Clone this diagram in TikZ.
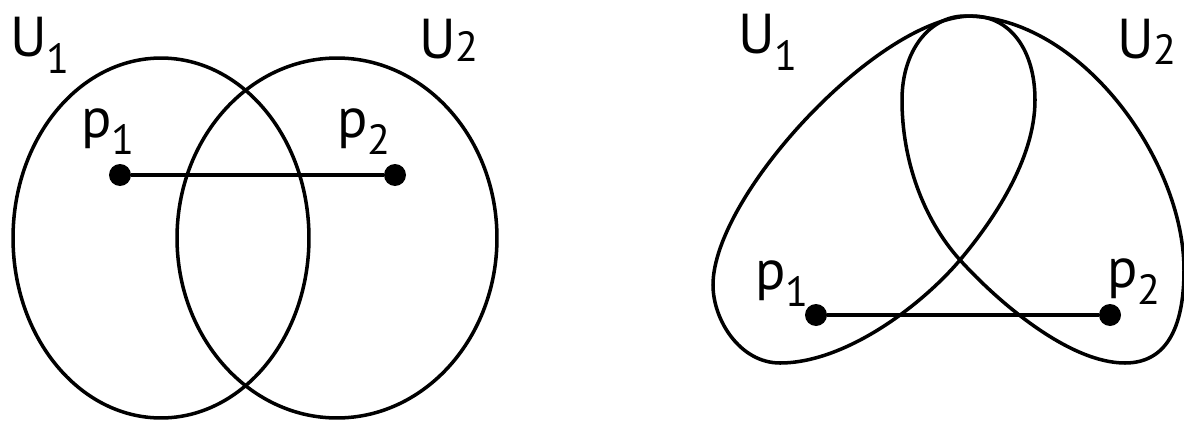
\documentclass[tikz,border=0pt]{standalone}
\usepackage{fontspec}
\setmainfont{PT Sans}
\usetikzlibrary{shapes.geometric,positioning}
\newcommand{\lbl}[3][0.3em]{#2\raisebox{-#1}{\fontsize{24}{24}\selectfont #3}}

\begin{document}
\begin{tikzpicture}[
    x=0.02cm, y=-0.02cm,
    region/.style={ellipse, draw=black, line width=2pt, inner sep=0pt},
    lobe/.style={draw=black, line width=2pt},
    dot/.style={circle, fill=black, inner sep=0pt, minimum size=0.44cm},
    tag/.style={font=\fontsize{32}{36}\selectfont, inner sep=0pt},
    seg/.style={line width=1.8pt}
]
\useasboundingbox (0,0) rectangle (1184,423);

% --- LEFT: two overlapping ellipses ---
\node[region, minimum width=5.92cm, minimum height=7.2cm] (u1l) at (161,238) {};
\node[region, minimum width=6.4cm, minimum height=7.2cm] (u2l) at (337,238) {};

\node[dot] (p1l) at (120,175) {};
\node[dot] (p2l) at (395,175) {};

\node[tag] (u1l_label) at (40,45) {\lbl{U}{1}};
\node[tag] (u2l_label) at (449,40) {\lbl[0.05em]{U}{2}};
\node[tag] (p1l_label) at (108,132) {\lbl{p}{1}};
\node[tag] (p2l_label) at (364,132) {\lbl{p}{2}};

\draw[seg] (p1l) -- (p2l);

% --- RIGHT: two crossed lobes ---
\coordinate (top1) at (972,16);
\coordinate (top2) at (965,16);
\coordinate (cross) at (960,260);

% U1 lobe
\draw[lobe] (top1) .. controls (1010,16) and (1035,50) .. (1035,100)
    .. controls (1035,160) and (992,222) .. (cross)
    .. controls (921,306) and (845,363) .. (780,363)
    .. controls (740,363) and (713,320) .. (713,285)
    .. controls (713,195) and (880,16) .. (top1) -- cycle;
% U2 lobe
\draw[lobe] (top2) .. controls (1080,16) and (1184,160) .. (1184,270)
    .. controls (1184,330) and (1165,363) .. (1125,363)
    .. controls (1070,363) and (1000,304) .. (cross)
    .. controls (923,219) and (902,160) .. (902,100)
    .. controls (902,50) and (930,16) .. (top2) -- cycle;

\node[dot] (p1r) at (816,315) {};
\node[dot] (p2r) at (1110,315) {};

\node[tag] (u1r_label) at (768,42) {\lbl{U}{1}};
\node[tag] (u2r_label) at (1147,42) {\lbl[0.1em]{U}{2}};
\node[tag] (p1r_label) at (782,284) {\lbl{p}{1}};
\node[tag] (p2r_label) at (1134,282) {\lbl{p}{2}};

\draw[seg] (p1r) -- (p2r);

\end{tikzpicture}
\end{document}
